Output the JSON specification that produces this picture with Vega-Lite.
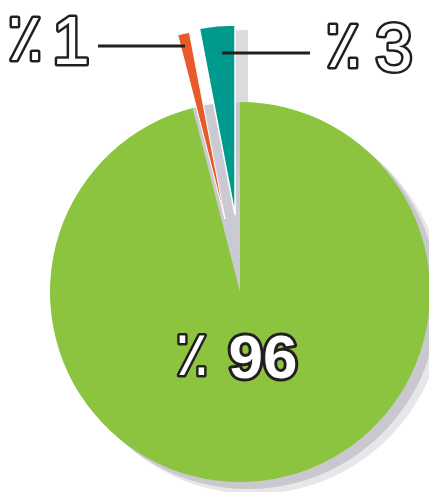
{
  "$schema": "https://vega.github.io/schema/vega-lite/v6.json",
  "width": 380,
  "height": 380,
  "autosize": {"type": "none"},
  "padding": {"left": 50, "top": 102, "right": 0, "bottom": 10},
  "background": "white",
  "view": {"stroke": null},
  "data": {
    "values": [
      {"category": "green", "value": 96, "rank": 1, "sign": "٪", "num": "96"},
      {"category": "orange", "value": 1, "rank": 2, "sign": "٪", "num": "1"},
      {"category": "teal", "value": 3, "rank": 3, "sign": "٪", "num": "3"}
    ]
  },
  "transform": [
    {"stack": "value", "groupby": [], "sort": [{"field": "rank", "order": "ascending"}], "as": ["v0", "v1"]}
  ],
  "encoding": {
    "theta": {"field": "v0", "type": "quantitative", "scale": {"domain": [0, 100]}},
    "theta2": {"field": "v1"}
  },
  "layer": [
    {
      "transform": [{"filter": "datum.category === 'green'"}],
      "mark": {"type": "arc", "fill": "#b9b9c1", "opacity": 0.35, "xOffset": 14, "yOffset": 12}
    },
    {
      "transform": [{"filter": "datum.category === 'green'"}],
      "mark": {"type": "arc", "fill": "#b4b4bc", "opacity": 0.6, "xOffset": 8, "yOffset": 7}
    },
    {
      "transform": [{"filter": "datum.category !== 'green'"}],
      "mark": {"type": "arc", "fill": "#cacad2"}
    },
    {
      "transform": [{"filter": "datum.category === 'teal'"}],
      "mark": {"type": "arc", "fill": "#c2c2ca", "opacity": 0.6, "xOffset": 8, "yOffset": -72}
    },
    {
      "transform": [{"filter": "datum.category === 'green'"}],
      "mark": {"type": "arc", "fill": "#8cc43f"}
    },
    {
      "transform": [{"filter": "datum.category === 'orange'"}],
      "mark": {"type": "arc", "fill": "#e85a2a", "stroke": "white", "strokeWidth": 1, "xOffset": -15, "yOffset": -73}
    },
    {
      "transform": [{"filter": "datum.category === 'teal'"}],
      "mark": {"type": "arc", "fill": "#00998d", "stroke": "white", "strokeWidth": 1.5, "xOffset": -5, "yOffset": -77}
    },
    {
      "transform": [{"filter": "datum.category === 'orange'"}],
      "mark": {"type": "rule", "stroke": "#231f20", "strokeWidth": 3},
      "encoding": {"theta": null, "theta2": null, "x": {"value": 48}, "x2": {"value": 135}, "y": {"value": -56}}
    },
    {
      "transform": [{"filter": "datum.category === 'teal'"}],
      "mark": {"type": "rule", "stroke": "#231f20", "strokeWidth": 3},
      "encoding": {"theta": null, "theta2": null, "x": {"value": 172}, "x2": {"value": 260}, "y": {"value": -49}}
    },
    {
      "transform": [{"filter": "datum.category === 'orange'"}],
      "mark": {"type": "text", "font": "Liberation Sans, DejaVu Sans", "fontSize": 66, "align": "center", "baseline": "alphabetic", "fill": "#231f20", "stroke": "#231f20", "strokeWidth": 5, "strokeJoin": "round"},
      "encoding": {"theta": null, "theta2": null, "text": {"field": "sign"}, "x": {"value": -25}, "y": {"value": -42}}
    },
    {
      "transform": [{"filter": "datum.category === 'orange'"}],
      "mark": {"type": "text", "font": "Liberation Sans, DejaVu Sans", "fontSize": 66, "align": "center", "baseline": "alphabetic", "fill": "white"},
      "encoding": {"theta": null, "theta2": null, "text": {"field": "sign"}, "x": {"value": -25}, "y": {"value": -42}}
    },
    {
      "transform": [{"filter": "datum.category === 'orange'"}],
      "mark": {"type": "text", "font": "Liberation Sans, DejaVu Sans", "fontSize": 68, "align": "center", "baseline": "alphabetic", "fill": "#231f20", "stroke": "#231f20", "strokeWidth": 5, "strokeJoin": "round"},
      "encoding": {"theta": null, "theta2": null, "text": {"field": "num"}, "x": {"value": 21}, "y": {"value": -38}}
    },
    {
      "transform": [{"filter": "datum.category === 'orange'"}],
      "mark": {"type": "text", "font": "Liberation Sans, DejaVu Sans", "fontSize": 68, "align": "center", "baseline": "alphabetic", "fill": "white"},
      "encoding": {"theta": null, "theta2": null, "text": {"field": "num"}, "x": {"value": 21}, "y": {"value": -38}}
    },
    {
      "transform": [{"filter": "datum.category === 'teal'"}],
      "mark": {"type": "text", "font": "Liberation Sans, DejaVu Sans", "fontSize": 66, "align": "center", "baseline": "alphabetic", "fill": "#231f20", "stroke": "#231f20", "strokeWidth": 5, "strokeJoin": "round"},
      "encoding": {"theta": null, "theta2": null, "text": {"field": "sign"}, "x": {"value": 293}, "y": {"value": -35}}
    },
    {
      "transform": [{"filter": "datum.category === 'teal'"}],
      "mark": {"type": "text", "font": "Liberation Sans, DejaVu Sans", "fontSize": 66, "align": "center", "baseline": "alphabetic", "fill": "white"},
      "encoding": {"theta": null, "theta2": null, "text": {"field": "sign"}, "x": {"value": 293}, "y": {"value": -35}}
    },
    {
      "transform": [{"filter": "datum.category === 'teal'"}],
      "mark": {"type": "text", "font": "Liberation Sans, DejaVu Sans", "fontSize": 68, "align": "center", "baseline": "alphabetic", "fill": "#231f20", "stroke": "#231f20", "strokeWidth": 5, "strokeJoin": "round"},
      "encoding": {"theta": null, "theta2": null, "text": {"field": "num"}, "x": {"value": 344}, "y": {"value": -31}}
    },
    {
      "transform": [{"filter": "datum.category === 'teal'"}],
      "mark": {"type": "text", "font": "Liberation Sans, DejaVu Sans", "fontSize": 68, "align": "center", "baseline": "alphabetic", "fill": "white"},
      "encoding": {"theta": null, "theta2": null, "text": {"field": "num"}, "x": {"value": 344}, "y": {"value": -31}}
    },
    {
      "transform": [{"filter": "datum.category === 'green'"}],
      "mark": {"type": "text", "font": "Liberation Sans, DejaVu Sans", "fontSize": 62, "align": "center", "baseline": "alphabetic", "fill": "#231f20", "stroke": "#231f20", "strokeWidth": 5, "strokeJoin": "round"},
      "encoding": {"theta": null, "theta2": null, "text": {"field": "sign"}, "x": {"value": 142}, "y": {"value": 273}}
    },
    {
      "transform": [{"filter": "datum.category === 'green'"}],
      "mark": {"type": "text", "font": "Liberation Sans, DejaVu Sans", "fontSize": 62, "align": "center", "baseline": "alphabetic", "fill": "white"},
      "encoding": {"theta": null, "theta2": null, "text": {"field": "sign"}, "x": {"value": 142}, "y": {"value": 273}}
    },
    {
      "transform": [{"filter": "datum.category === 'green'"}],
      "mark": {"type": "text", "font": "Liberation Sans, DejaVu Sans", "fontSize": 62, "fontWeight": "bold", "align": "center", "baseline": "alphabetic", "fill": "#231f20", "stroke": "#231f20", "strokeWidth": 6, "strokeJoin": "round"},
      "encoding": {"theta": null, "theta2": null, "text": {"field": "num"}, "x": {"value": 213}, "y": {"value": 276}}
    },
    {
      "transform": [{"filter": "datum.category === 'green'"}],
      "mark": {"type": "text", "font": "Liberation Sans, DejaVu Sans", "fontSize": 62, "fontWeight": "bold", "align": "center", "baseline": "alphabetic", "fill": "white"},
      "encoding": {"theta": null, "theta2": null, "text": {"field": "num"}, "x": {"value": 213}, "y": {"value": 276}}
    }
  ]
}
